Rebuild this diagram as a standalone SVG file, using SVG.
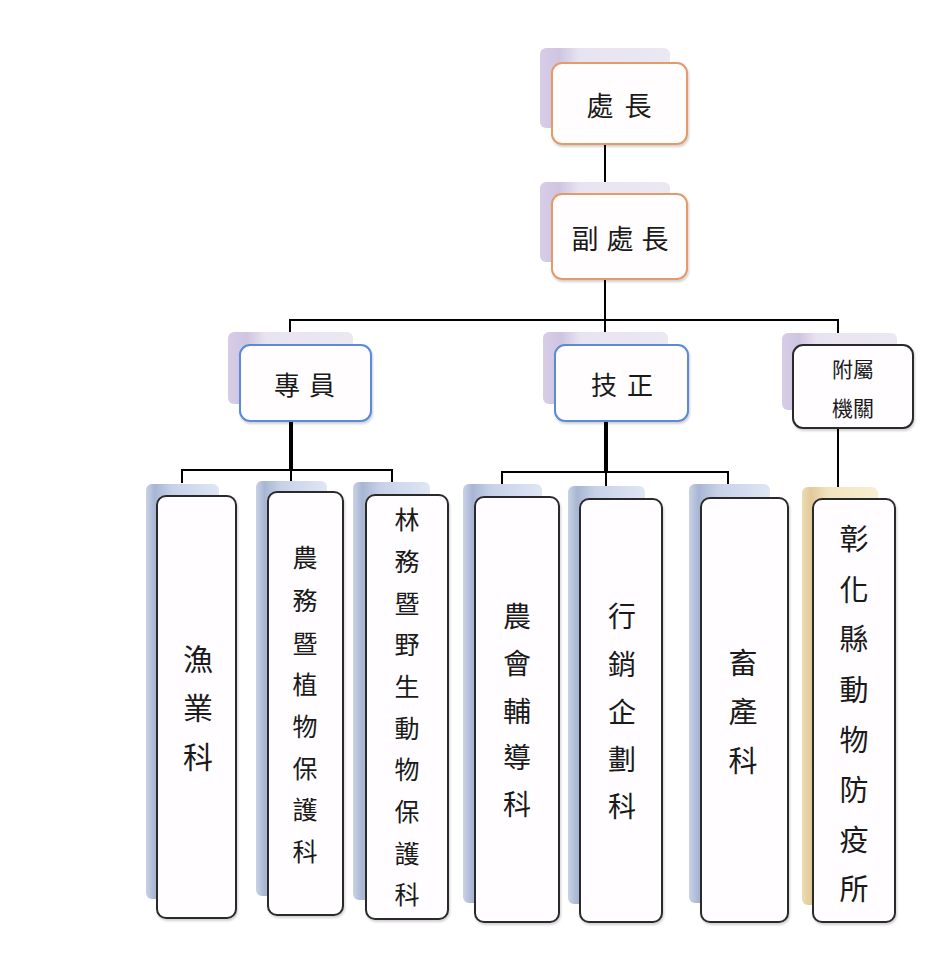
<svg xmlns="http://www.w3.org/2000/svg" width="936" height="960" viewBox="0 0 936 960">
<defs>
<linearGradient id="lav" x1="0" y1="0" x2="1" y2="0">
<stop offset="0" stop-color="#d7cde6"/><stop offset="0.15" stop-color="#cfc5e2"/><stop offset="0.3" stop-color="#e8e3f0"/><stop offset="1" stop-color="#ece8f2"/>
</linearGradient>
<linearGradient id="blu" x1="0" y1="0" x2="1" y2="0">
<stop offset="0" stop-color="#c9d2e6"/><stop offset="0.12" stop-color="#a8b6d3"/><stop offset="0.35" stop-color="#c6d1e8"/><stop offset="1" stop-color="#dfe6f4"/>
</linearGradient>
<linearGradient id="yel" x1="0" y1="0" x2="1" y2="0">
<stop offset="0" stop-color="#ecdcb4"/><stop offset="0.12" stop-color="#e2c99a"/><stop offset="0.35" stop-color="#f3e4bf"/><stop offset="1" stop-color="#f8eed2"/>
</linearGradient>
<filter id="ds" x="-10%" y="-10%" width="120%" height="120%">
<feDropShadow dx="1" dy="2" stdDeviation="1.2" flood-color="#000" flood-opacity="0.18"/>
</filter>
</defs>
<style>
.sl{fill:url(#lav)}
.sb{fill:url(#blu)}
.sy{fill:url(#yel)}
.mo{fill:#fffdfd;stroke:#e59a6a;stroke-width:2;filter:url(#ds)}
.mb{fill:#fffdfd;stroke:#5a8ad8;stroke-width:2;filter:url(#ds)}
.md{fill:#fffdff;stroke:#2b2b2b;stroke-width:2;filter:url(#ds)}
.t{font-family:"Noto Sans CJK TC","Noto Sans CJK SC",sans-serif;fill:#1a1a1a;text-anchor:middle;dominant-baseline:central}
.c{stroke:#000;fill:none;stroke-width:2}
.ck{stroke:#000;fill:none;stroke-width:4}
</style>
<rect width="936" height="960" fill="#fff"/>
<g id="connectors">
<line class="c" x1="605" y1="144" x2="605" y2="194"/>
<line class="c" x1="605" y1="279" x2="605" y2="320"/>
<polyline class="c" points="290,345 290,320 838,320 838,345"/>
<line class="c" x1="605" y1="320" x2="605" y2="345"/>
<line class="ck" x1="291" y1="420" x2="291" y2="471"/>
<polyline class="c" points="182,483 182,470 392,470 392,483"/>
<line class="c" x1="291" y1="470" x2="291" y2="483"/>
<line class="ck" x1="606" y1="421" x2="606" y2="473"/>
<polyline class="c" points="502,484 502,472 728,472 728,484"/>
<line class="c" x1="606" y1="472" x2="606" y2="486"/>
<line class="c" x1="838" y1="428" x2="838" y2="487"/>
</g>
<g id="n-chu">
<rect class="sl" x="540" y="48" width="130" height="80" rx="6"/>
<rect class="mo" x="552" y="63" width="135" height="81" rx="10"/>
<text class="t" x="600 638" y="104" font-size="27">處長</text>
</g>
<g id="n-fu">
<rect class="sl" x="540" y="182" width="130" height="80" rx="6"/>
<rect class="mo" x="552" y="194" width="135" height="85" rx="10"/>
<text class="t" x="585 620 655" y="237" font-size="27">副處長</text>
</g>
<g id="n-zhuan">
<rect class="sl" x="228" y="332" width="125" height="72" rx="6"/>
<rect class="mb" x="240" y="345" width="131" height="76" rx="10"/>
<text class="t" x="287 322" y="383" font-size="26">專員</text>
</g>
<g id="n-ji">
<rect class="sl" x="543" y="332" width="125" height="72" rx="6"/>
<rect class="mb" x="555" y="345" width="133" height="76" rx="10"/>
<text class="t" x="604 640" y="383" font-size="26">技正</text>
</g>
<g id="n-fushu">
<rect class="sl" x="782" y="333" width="115" height="77" rx="6"/>
<rect class="md" x="793" y="345" width="120" height="83" rx="10"/>
<text class="t" x="853" y="368" font-size="21">附屬</text>
<text class="t" x="853" y="407" font-size="21">機關</text>
</g>
<g id="n-yu">
<rect class="sb" x="146" y="484" width="73" height="415" rx="6"/>
<rect class="md" x="157" y="496" width="79" height="422" rx="9"/>
<text class="t" font-size="30"><tspan x="198" y="657">漁</tspan><tspan x="198" y="706">業</tspan><tspan x="198" y="755">科</tspan></text>
</g>
<g id="n-nongwu">
<rect class="sb" x="256" y="481" width="71" height="415" rx="6"/>
<rect class="md" x="268" y="492" width="75" height="423" rx="9"/>
<text class="t" font-size="25"><tspan x="305" y="556">農</tspan><tspan x="305" y="599">務</tspan><tspan x="305" y="642">暨</tspan><tspan x="305" y="683">植</tspan><tspan x="305" y="725">物</tspan><tspan x="305" y="767">保</tspan><tspan x="305" y="808">護</tspan><tspan x="305" y="850">科</tspan></text>
</g>
<g id="n-linwu">
<rect class="sb" x="353" y="482" width="77" height="418" rx="6"/>
<rect class="md" x="366" y="495" width="82" height="424" rx="9"/>
<text class="t" font-size="25"><tspan x="407" y="518">林</tspan><tspan x="407" y="560">務</tspan><tspan x="407" y="602">暨</tspan><tspan x="407" y="643">野</tspan><tspan x="407" y="685">生</tspan><tspan x="407" y="727">動</tspan><tspan x="407" y="768">物</tspan><tspan x="407" y="810">保</tspan><tspan x="407" y="852">護</tspan><tspan x="407" y="893">科</tspan></text>
</g>
<g id="n-nonghui">
<rect class="sb" x="463" y="484" width="79" height="419" rx="6"/>
<rect class="md" x="475" y="497" width="84" height="425" rx="9"/>
<text class="t" font-size="28"><tspan x="517" y="615">農</tspan><tspan x="517" y="662">會</tspan><tspan x="517" y="710">輔</tspan><tspan x="517" y="756">導</tspan><tspan x="517" y="803">科</tspan></text>
</g>
<g id="n-xiao">
<rect class="sb" x="568" y="486" width="77" height="418" rx="6"/>
<rect class="md" x="580" y="499" width="82" height="423" rx="9"/>
<text class="t" font-size="28"><tspan x="622" y="615">行</tspan><tspan x="622" y="663">銷</tspan><tspan x="622" y="711">企</tspan><tspan x="622" y="758">劃</tspan><tspan x="622" y="805">科</tspan></text>
</g>
<g id="n-xu">
<rect class="sb" x="689" y="484" width="81" height="419" rx="6"/>
<rect class="md" x="701" y="498" width="87" height="424" rx="9"/>
<text class="t" font-size="29"><tspan x="743" y="661">畜</tspan><tspan x="743" y="710">產</tspan><tspan x="743" y="759">科</tspan></text>
</g>
<g id="n-fangyi">
<rect class="sy" x="802" y="487" width="76" height="418" rx="6"/>
<rect class="md" x="813" y="499" width="82" height="423" rx="9"/>
<text class="t" font-size="29"><tspan x="854" y="537">彰</tspan><tspan x="854" y="588">化</tspan><tspan x="854" y="637">縣</tspan><tspan x="854" y="688">動</tspan><tspan x="854" y="738">物</tspan><tspan x="854" y="788">防</tspan><tspan x="854" y="838">疫</tspan><tspan x="854" y="887">所</tspan></text>
</g>
</svg>
